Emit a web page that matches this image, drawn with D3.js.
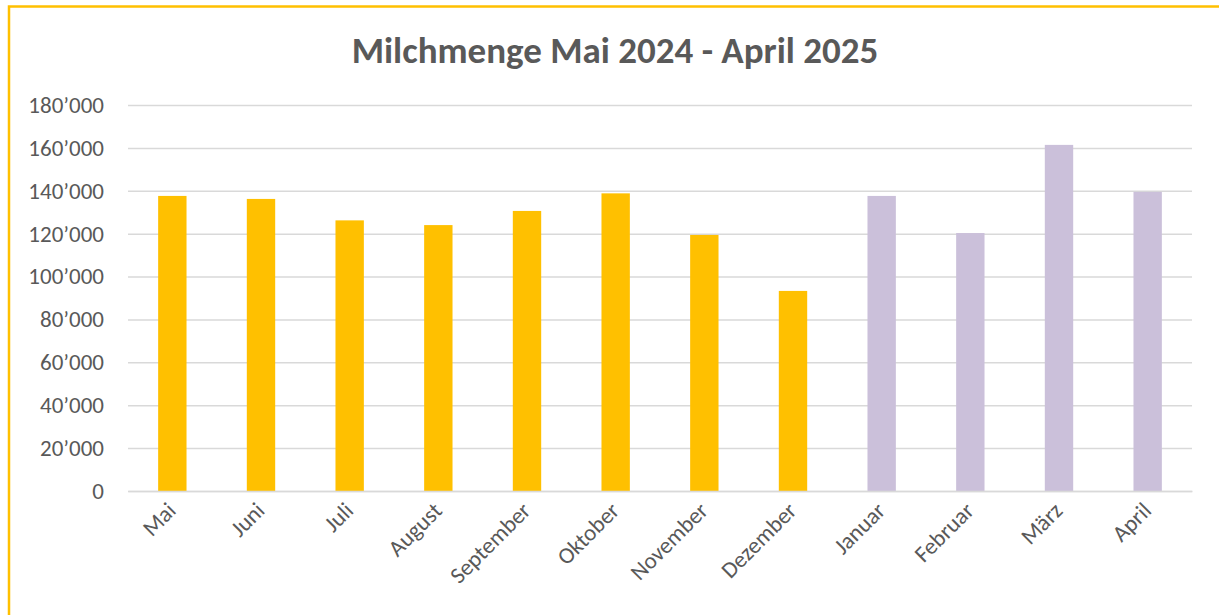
<!DOCTYPE html>
<html><head><meta charset="utf-8">
<script src="https://cdn.jsdelivr.net/npm/d3@7"></script>
<style>body{margin:0;background:#fff;} svg{display:block;}</style>
</head><body>
<svg id="chart" width="1219" height="615"></svg>
<script>
const months = ["Mai","Juni","Juli","August","September","Oktober","November","Dezember","Januar","Februar","März","April"];
const values = [137600,136200,126200,124000,130600,138800,119400,93300,137600,120300,161400,139500];
const years = [2024,2024,2024,2024,2024,2024,2024,2024,2025,2025,2025,2025];
const yTicks = [0,20000,40000,60000,80000,100000,120000,140000,160000,180000];
const title = "Milchmenge Mai 2024 - April 2025";

const svg = d3.select("#chart");
const W = 1219, H = 615;
const m = {left:128, right:27, top:105, bottom:124};
const font = "Carlito, Lato, 'Open Sans', sans-serif";

svg.append("rect").attr("x",9).attr("y",6.5).attr("width",1300).attr("height",700)
  .attr("fill","#fff").attr("stroke","#FFC000").attr("stroke-width",2.5);

const x = d3.scaleBand().domain(months).range([m.left, W-m.right]).paddingInner(0.68).paddingOuter(0.34);
const y = d3.scaleLinear().domain([0,180000]).range([H-m.bottom, m.top]);

const fmt = v => d3.format(",")(v).replace(/,/g,"\u2019");

const gy = svg.append("g").attr("transform",`translate(${m.left},0)`)
  .call(d3.axisLeft(y).tickValues(yTicks).tickSize(-(W-m.left-m.right)).tickFormat(fmt).tickPadding(24));
gy.select(".domain").remove();
gy.selectAll("line").attr("stroke","#d9d9d9").attr("stroke-width",1.5);
gy.selectAll("text").attr("fill","#595959").style("font-family",font).style("font-size","23px");

svg.append("g").selectAll("rect").data(months).join("rect")
  .attr("x",d=>x(d)).attr("width",x.bandwidth())
  .attr("y",(d,i)=>y(values[i])).attr("height",(d,i)=>y(0)-y(values[i]))
  .attr("fill",(d,i)=>years[i]===2024?"#FFC000":"#CBC0DA");

const gx = svg.append("g").attr("transform",`translate(0,${H-m.bottom})`)
  .call(d3.axisBottom(x).tickSize(0).tickPadding(0));
gx.select(".domain").attr("stroke","#d9d9d9").attr("stroke-width",1.5);
gx.selectAll("text").attr("fill","#595959").style("font-family",font).style("font-size","23px")
  .attr("text-anchor","end").attr("dy",null)
  .attr("transform","translate(5,21) rotate(-45)");

svg.append("text").attr("x",615).attr("y",63).attr("text-anchor","middle")
  .attr("fill","#595959").style("font-family",font).style("font-size","37px").style("font-weight","bold")
  .text(title);
</script>
</body></html>
